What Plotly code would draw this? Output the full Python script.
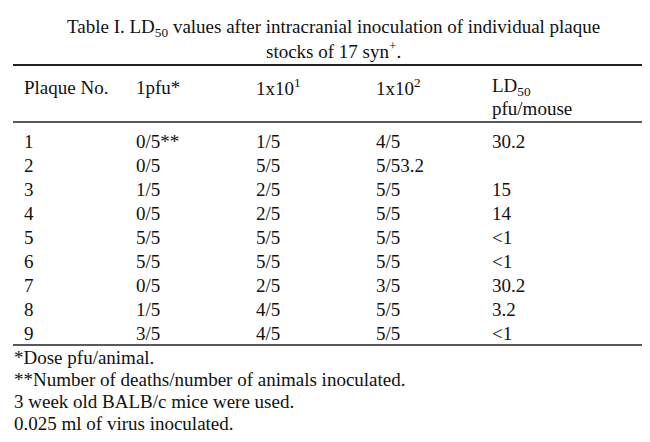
import plotly.graph_objects as go

plaque_no = ["1", "2", "3", "4", "5", "6", "7", "8", "9"]
dose_1 = ["0/5**", "0/5", "1/5", "0/5", "5/5", "5/5", "0/5", "1/5", "3/5"]
dose_10 = ["1/5", "5/5", "2/5", "2/5", "5/5", "5/5", "2/5", "4/5", "4/5"]
dose_100 = ["4/5", "5/53.2", "5/5", "5/5", "5/5", "5/5", "3/5", "5/5", "5/5"]
ld50 = ["30.2", "", "15", "14", "<1", "<1", "30.2", "3.2", "<1"]
headers = ["Plaque No.", "1pfu*", "1x10<sup>1</sup>", "1x10<sup>2</sup>", "LD<sub>50</sub>"]
footnotes = ["*Dose pfu/animal.",
             "**Number of deaths/number of animals inoculated.",
             "3 week old BALB/c mice were used.",
             "0.025 ml of virus inoculated."]

FONT = dict(family="Liberation Serif", size=19, color="#111")
col_x = [14, 126, 246, 366, 482]

fig = go.Figure()
ann = []
ann.append(dict(x=325, y=20, text="Table I. LD<sub>50</sub> values after intracranial inoculation of individual plaque",
                xanchor="center", yanchor="middle"))
ann.append(dict(x=325, y=42, text="stocks of 17 syn<sup>+</sup>.", xanchor="center", yanchor="middle"))
for cx, h in zip(col_x, headers):
    ann.append(dict(x=cx, y=79, text=h, xanchor="left", yanchor="middle"))
ann.append(dict(x=col_x[4], y=100, text="pfu/mouse", xanchor="left", yanchor="middle"))
cols = [plaque_no, dose_1, dose_10, dose_100, ld50]
for i in range(len(plaque_no)):
    for cx, col in zip(col_x, cols):
        ann.append(dict(x=cx, y=133 + i * 24, text=col[i].replace("<", "&lt;"), xanchor="left", yanchor="middle"))
for j, f in enumerate(footnotes):
    ann.append(dict(x=4, y=349 + j * 22.3, text=f, xanchor="left", yanchor="middle"))
for a in ann:
    a.update(showarrow=False, font=FONT, xref="x", yref="y")

shapes = [dict(type="line", x0=5, x1=645, y0=y, y1=y, xref="x", yref="y",
               line=dict(color="#222", width=w)) for y, w in [(57, 2), (114, 1.5), (337, 1.5)]]

fig.update_layout(width=650, height=442, margin=dict(l=0, r=0, t=0, b=0),
                  paper_bgcolor="white", plot_bgcolor="white",
                  annotations=ann, shapes=shapes, showlegend=False,
                  xaxis=dict(range=[0, 650], visible=False),
                  yaxis=dict(range=[442, 0], visible=False))
fig.write_html("out.html")
